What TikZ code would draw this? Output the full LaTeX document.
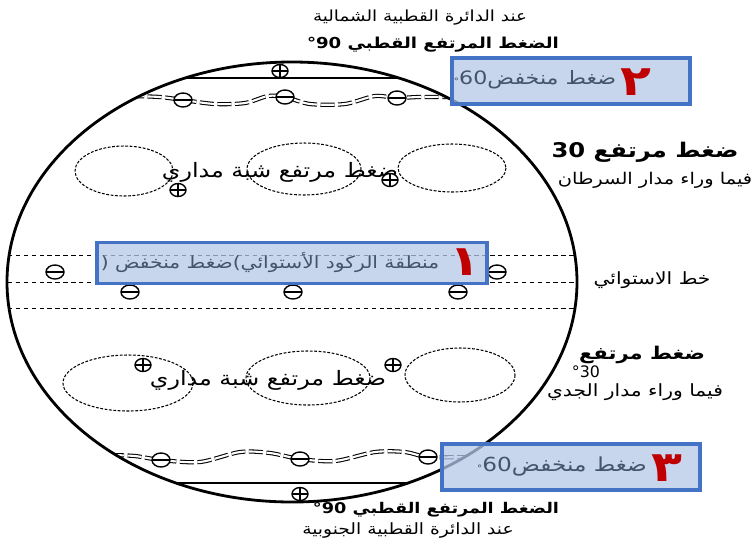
\documentclass[tikz,border=0pt]{standalone}
\usepackage{fontspec}
\setmainfont{DejaVu Sans}
\newfontfamily\arabicfont[Script=Arabic,FakeStretch=1.2]{DejaVu Sans}
\TeXXeTstate=1
\usetikzlibrary{shapes.geometric}
\definecolor{boxfill}{HTML}{B4C7E7}
\definecolor{boxedge}{HTML}{4472C4}
\definecolor{boxtext}{HTML}{44546A}
\definecolor{numred}{HTML}{C00000}
\newcommand{\artext}[1]{\arabicfont\beginR #1\endR}

\begin{document}
\begin{tikzpicture}[x=0.02cm,y=-0.02cm,
  lowmark/.style={draw,thick,ellipse,fill=white,minimum width=0.36cm,minimum height=0.28cm,inner sep=0pt,
    path picture={\draw[thick] (path picture bounding box.west)--(path picture bounding box.east);}},
  highmark/.style={draw,thick,ellipse,fill=white,minimum width=0.32cm,minimum height=0.26cm,inner sep=0pt,
    path picture={\draw (path picture bounding box.west)--(path picture bounding box.east)
      (path picture bounding box.north)--(path picture bounding box.south);}},
  cell/.style={semithick,dash pattern=on 1.6pt off 0.9pt},
  wave/.style={double,double distance=1.2pt,semithick,dash pattern=on 8pt off 2pt},
  lowbox/.style={draw=boxedge,line width=1.8pt,fill=boxfill,fill opacity=0.75,text opacity=1,inner sep=0pt},
  boxlabel/.style={text=boxtext,font=\fontsize{#1}{#1}\selectfont},
  numlabel/.style={text=numred,font=\fontsize{24}{24}\selectfont\bfseries},
  note/.style={font=\fontsize{#1}{#1}\selectfont},
  bignote/.style={font=\fontsize{#1}{#1}\selectfont\bfseries}]
\useasboundingbox (0,0) rectangle (753,545);
\begin{scope}
\clip (292,282) ellipse [x radius=285, y radius=220];
\draw[thick] (100,78)--(480,78);
\draw[thick] (100,483)--(480,483);
\foreach \y in {255,282,308}
  \draw[dash pattern=on 2.5pt off 2pt] (0,\y)--(600,\y);
\draw[wave] plot[smooth] coordinates {(130,96) (160,97) (183,100) (215,104) (245,103) (268,96) (285,97)
  (310,104) (345,104) (375,96) (397,98) (420,97) (470,97)};
\draw[wave] plot[smooth] coordinates {(110,455) (135,456) (161,460) (200,462) (240,452) (270,453) (300,459)
  (335,461) (375,452) (405,452) (428,457) (470,457)};
\end{scope}
\draw[line width=1.6pt] (292,282) ellipse [x radius=285, y radius=220];
\draw[cell] (124,171) ellipse [x radius=49, y radius=25];
\draw[cell] (304,169) ellipse [x radius=57, y radius=26];
\draw[cell] (452,168) ellipse [x radius=54, y radius=24];
\draw[cell] (128,383) ellipse [x radius=65, y radius=28];
\draw[cell] (308,378) ellipse [x radius=62, y radius=27];
\draw[cell] (460,375) ellipse [x radius=55, y radius=27];
\foreach \x/\y [count=\i] in {183/100,285/97,397/98}
  \node[lowmark] (nlow\i) at (\x,\y) {};
\foreach \x/\y [count=\i] in {55/272,130/292,293/292,458/292,497/272}
  \node[lowmark] (eqlow\i) at (\x,\y) {};
\foreach \x/\y [count=\i] in {161/460,300/459,428/457}
  \node[lowmark] (slow\i) at (\x,\y) {};
\node[highmark] (nhigh) at (280,71) {};
\node[highmark] (shigh) at (300,494) {};
\node[note=11.3] (ntrop) at (280,172) {\artext{ضغط مرتفع شبة مداري}};
\node[note=11.3] (strop) at (268,380) {\artext{ضغط مرتفع شبة مداري}};
\node[highmark] (nt1) at (178,190) {};
\node[highmark] (nt2) at (390,180) {};
\node[highmark] (st1) at (143,365) {};
\node[highmark] (st2) at (393,365) {};
\node[note=8.7] (ncircle) at (420,18) {\artext{عند الدائرة القطبية الشمالية}};
\node[bignote=8.6] (npolar) at (433,45) {\artext{الضغط المرتفع القطبي \beginL°90\endL}};
\node[bignote=11.5] (cancer) at (645,152) {\artext{ضغط مرتفع \beginL30\endL}};
\node[note=9.2] (cancer2) at (655,180) {\artext{فيما وراء مدار السرطان}};
\node[note=9.6] (equator) at (652,280) {\artext{خط الاستوائي}};
\node[bignote=10] (capri) at (642,355) {\artext{ضغط مرتفع}};
\node[note=9] (capri30) at (586,372) {°30};
\node[note=9.6] (capri2) at (635,392) {\artext{فيما وراء مدار الجدي}};
\node[bignote=8.4] (spolar) at (436,510) {\artext{الضغط المرتفع القطبي \beginL°90\endL}};
\node[note=8.85] (scircle) at (408,530) {\artext{عند الدائرة القطبية الجنوبية}};
\node[lowbox,minimum width=4.76cm,minimum height=0.92cm] (low2) at (571,81) {};
\node[boxlabel=10.5] (low2t) at (535,80) {\artext{ضغط منخفض\beginL{\tiny°}60\endL}};
\node[numlabel] (low2n) at (636,82) {\artext{٢}};
\node[lowbox,minimum width=7.8cm,minimum height=0.82cm] (low1) at (292,263) {};
\node[boxlabel=9.6] (low1t) at (270,263) {\artext{منطقة الركود الأستوائي)ضغط منخفض (}};
\node[numlabel] (low1n) at (465,262) {\artext{١}};
\node[lowbox,minimum width=5.16cm,minimum height=0.92cm] (low3) at (571,467) {};
\node[boxlabel=11] (low3t) at (562,467) {\artext{ضغط منخفض\beginL{\tiny°}60\endL}};
\node[numlabel] (low3n) at (667,468) {\artext{٣}};
\end{tikzpicture}
\end{document}
